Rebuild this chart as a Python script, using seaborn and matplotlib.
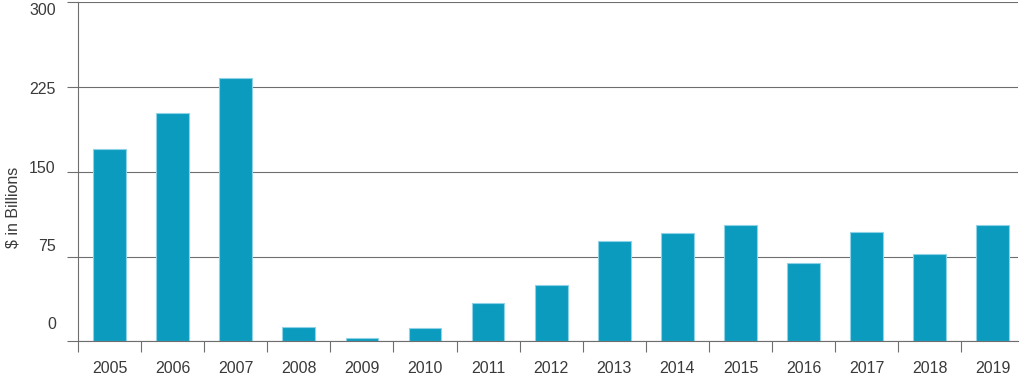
"""
Annual volume bar chart, 2005-2019
"""

import matplotlib
matplotlib.use('Agg')
import matplotlib.pyplot as plt
import matplotlib.transforms as mtransforms
import seaborn as sns
import pandas as pd

# data
YEARS = ['2005', '2006', '2007', '2008', '2009', '2010', '2011', '2012',
         '2013', '2014', '2015', '2016', '2017', '2018', '2019']
VALUES = [170, 202, 233, 13, 3, 12, 34, 50, 89, 96, 103, 69, 97, 77, 103]
Y_TICKS = [0, 75, 150, 225, 300]

BAR_COLOR = '#0a9bbf'
LINE_COLOR = '#6e6e6e'
TEXT_COLOR = '#3a3a3a'

df = pd.DataFrame({'year': YEARS, 'value': VALUES})

sns.set_style('white')
plt.rcParams['font.family'] = ['Liberation Sans', 'DejaVu Sans']

fig = plt.figure(figsize=(10.25, 3.79), dpi=100)
ax = fig.add_axes([0.0761, 0.099, 0.9171, 0.8955])

sns.barplot(data=df, x='year', y='value', color=BAR_COLOR, width=0.52,
            edgecolor='#8dd2e6', linewidth=0.8, saturation=1, ax=ax)

ax.set_xlim(-0.5, len(YEARS) - 0.6)
ax.set_ylim(0, 300)
ax.set_axisbelow(True)

# horizontal grid
ax.set_yticks(Y_TICKS)
ax.yaxis.grid(True, color=LINE_COLOR, linewidth=0.8)
ax.xaxis.grid(False)

# spines
sns.despine(ax=ax, top=True, right=True)
for side in ['left', 'bottom']:
    ax.spines[side].set_color(LINE_COLOR)
    ax.spines[side].set_linewidth(0.8)

# x: labels at centers, tick marks between categories
ax.set_xticks(range(len(YEARS)))
ax.set_xticklabels(YEARS)
ax.set_xticks([i - 0.5 for i in range(len(YEARS))], minor=True)
ax.tick_params(axis='x', which='major', length=0, pad=14,
               labelsize=11.5, labelcolor=TEXT_COLOR)
ax.tick_params(axis='x', which='minor', length=8, width=0.8,
               color=LINE_COLOR, direction='out', bottom=True)

ax.tick_params(axis='y', length=8, width=0.8, color=LINE_COLOR,
               direction='out', left=True, pad=8,
               labelsize=11.5, labelcolor=TEXT_COLOR)

# the reference's y labels sit slightly off their gridlines
offsets_px = {0: 18, 75: 11.5, 150: 5, 225: -1, 300: -7}
for tick_val, label in zip(Y_TICKS, ax.get_yticklabels()):
    shift = mtransforms.ScaledTranslation(0, offsets_px[tick_val] / 100,
                                          fig.dpi_scale_trans)
    label.set_transform(label.get_transform() + shift)

ax.set_xlabel('')
ax.set_ylabel('$ in Billions', fontsize=11.5, color=TEXT_COLOR)
ax.yaxis.set_label_coords(-0.061, 0.396)

fig.savefig('out.png', dpi=100)
